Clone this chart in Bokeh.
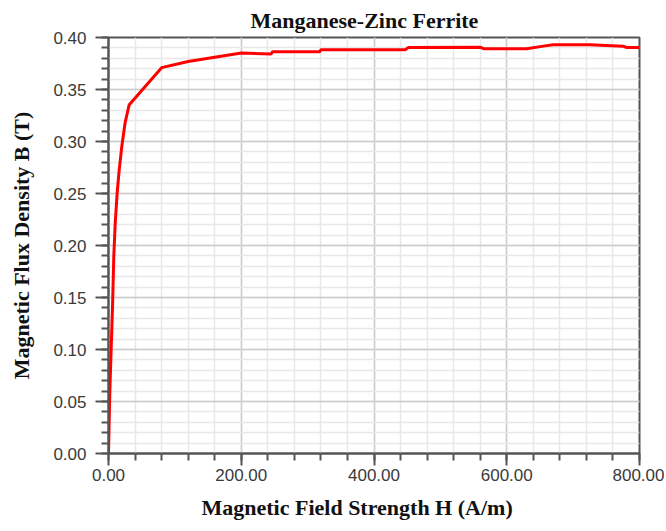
from bokeh.plotting import figure
from bokeh.embed import file_html
from bokeh.resources import INLINE
from bokeh.models import SingleIntervalTicker, PrintfTickFormatter, Range1d, Title

# Data (H in A/m, B in T)
H = [0, 1, 2, 4, 6, 8, 10, 13, 16, 20, 25, 31, 80, 120, 160, 200, 245, 247,
     318, 320, 447, 452, 560, 565, 630, 655, 670, 725, 775, 781, 800]
B = [0, 0.03, 0.06, 0.10, 0.14, 0.19, 0.22, 0.25, 0.272, 0.295, 0.318, 0.335,
     0.371, 0.377, 0.381, 0.385, 0.3842, 0.3862, 0.3862, 0.3882, 0.3882, 0.3905,
     0.3907, 0.3892, 0.3892, 0.3917, 0.393, 0.393, 0.3917, 0.3904, 0.3904]

title_text = "Manganese-Zinc Ferrite"
x_label = "Magnetic Field Strength H (A/m)"
y_label = "Magnetic Flux Density B (T)"

p = figure(width=664, height=530, output_backend="svg", toolbar_location=None,
           x_range=Range1d(0, 800), y_range=Range1d(0, 0.40),
           min_border_left=108, min_border_right=25, min_border_top=36,
           min_border_bottom=77, title=title_text)

p.title.align = "left"
p.title.offset = 142
p.title.standoff = 10
p.title.text_font = "Liberation Serif"
p.title.text_font_style = "bold"
p.title.text_font_size = "22px"
p.title.text_color = "#111111"

xt = Title(text=x_label, align="left", offset=93, standoff=18,
           text_font="Liberation Serif", text_font_style="bold",
           text_font_size="22px", text_color="#111111")
p.add_layout(xt, "below")

p.line(H, B, line_color="#ff0000", line_width=3)

p.xaxis.ticker = SingleIntervalTicker(interval=200, num_minor_ticks=5)
p.yaxis.ticker = SingleIntervalTicker(interval=0.05, num_minor_ticks=5)
p.xaxis.formatter = PrintfTickFormatter(format="%.2f")
p.yaxis.formatter = PrintfTickFormatter(format="%.2f")

for ax in (p.xaxis, p.yaxis):
    ax.axis_line_color = "#555555"
    ax.axis_line_width = 2
    ax.major_tick_line_color = "#555555"
    ax.minor_tick_line_color = "#555555"
    ax.major_tick_line_width = 2
    ax.minor_tick_line_width = 2
    ax.major_tick_in = 0
    ax.minor_tick_in = 0
    ax.major_label_text_font = "Liberation Sans"
    ax.major_label_text_font_size = "17px"
    ax.major_label_text_color = "#3a3a3a"
    ax.axis_label_text_font = "Liberation Serif"
    ax.axis_label_text_font_style = "bold"
    ax.axis_label_text_font_size = "22px"
    ax.axis_label_text_color = "#111111"

p.xaxis.major_tick_out = 12
p.xaxis.minor_tick_out = 7
p.xaxis.major_label_standoff = 3
p.yaxis.major_tick_out = 13
p.yaxis.minor_tick_out = 7
p.yaxis.major_label_standoff = 9
p.yaxis.axis_label = y_label
p.yaxis.axis_label_standoff = 16

p.xgrid.grid_line_color = "#cccccc"
p.ygrid.grid_line_color = "#cccccc"
p.xgrid.grid_line_width = 1.5
p.ygrid.grid_line_width = 1.5
p.xgrid.minor_grid_line_color = "#e8e8e8"
p.ygrid.minor_grid_line_color = "#e8e8e8"
p.xgrid.minor_grid_line_width = 1.5
p.ygrid.minor_grid_line_width = 1.5

p.outline_line_color = "#555555"
p.outline_line_width = 2
p.background_fill_color = "white"
p.border_fill_color = "white"

open("out.html", "w").write(file_html(p, INLINE))
